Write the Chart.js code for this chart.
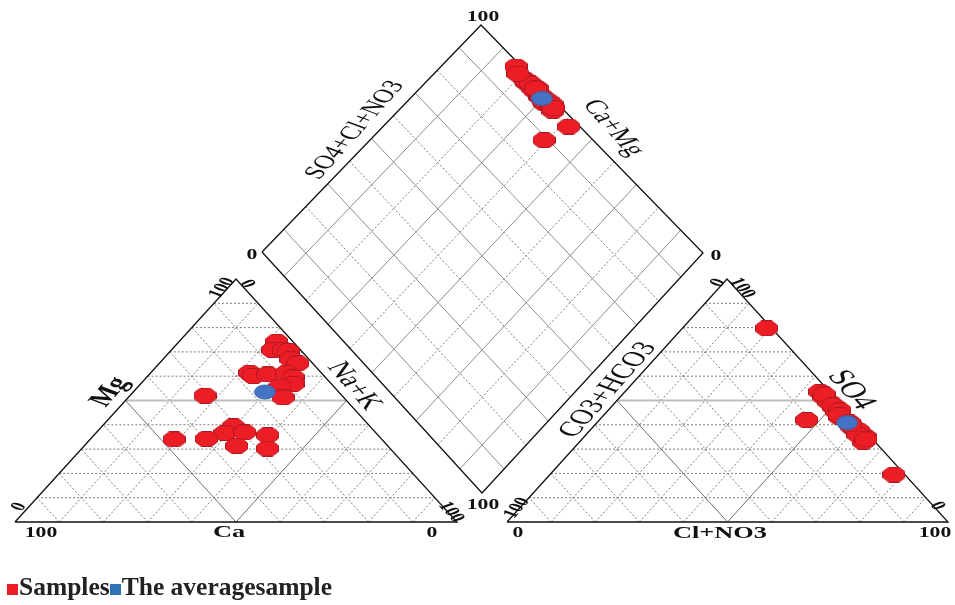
<!DOCTYPE html>
<html>
<head>
<meta charset="utf-8">
<script src="https://cdn.jsdelivr.net/npm/chart.js@4.4.0/dist/chart.umd.min.js"></script>
<style>
html, body { margin: 0; padding: 0; background: #fff; }
#wrap { position: relative; width: 955px; height: 605px; }
#legend { position: absolute; left: 7px; top: 574px; font: bold 25.5px "Liberation Serif", serif; line-height: 25px; color: #222; white-space: nowrap; }
#legend .box { display: inline-block; width: 11px; height: 11px; margin-right: 1px; }
</style>
</head>
<body>
<div id="wrap">
  <canvas id="piper" width="955" height="605"></canvas>
  <div id="legend"><span class="box" style="background:#ED1C24"></span>Samples<span class="box" style="background:#2E75B6"></span>The averagesample</div>
</div>
<script>
// cations, % meq/l (one entry per sample)
const caPct  = [3.7, 6.3, 3.9, 3.0, 4.1, 3.4, 16.2, 16.0, 12.4, 7.9, 7.3, 8.7, 12.2, 13.7, 31.0, 30.9, 34.2, 29.6, 25.0, 47.0, 39.6, 34.2, 27.8];
const mgPct  = [74.2, 70.8, 70.8, 70.4, 67.0, 65.3, 61.4, 60.1, 60.8, 61.4, 59.5, 56.8, 55.7, 51.3, 52.0, 39.4, 36.6, 36.9, 35.7, 34.0, 34.2, 31.3, 30.2];
const nakPct = [22.1, 22.9, 25.3, 26.6, 28.9, 31.3, 22.4, 23.9, 26.8, 30.7, 33.2, 34.5, 32.1, 35.0, 17.0, 29.7, 29.2, 33.5, 39.3, 19.0, 26.2, 34.5, 42.0];
// anions, % meq/l
const hco3Pct = [2.2, 2.4, 2.3, 2.3, 2.5, 2.9, 2.1, 1.7, 1.2, 2.7, 1.8, 2.0, 1.5, 2.6, 1.2, 1.9, 2.2, 1.4, 11.0, 2.4, 1.6, 2.0, 2.5];
const so4Pct  = [53.6, 51.6, 49.5, 47.4, 45.4, 43.2, 38.6, 36.5, 35.1, 33.0, 52.5, 48.0, 46.0, 44.0, 79.7, 41.0, 39.5, 37.5, 42.0, 36.0, 34.0, 40.2, 19.5];
const clPct   = [44.2, 46.0, 48.2, 50.3, 52.1, 53.9, 59.3, 61.8, 63.7, 64.3, 45.7, 50.0, 52.5, 53.4, 19.1, 57.1, 58.3, 61.1, 47.0, 61.6, 64.4, 57.8, 78.0];
// average sample
const avgCation = [16.7, 53.5, 29.8];   // Ca, Mg, Na+K
const avgAnion  = [2.4, 40.9, 56.7];    // CO3+HCO3, SO4, Cl+NO3
const gridSteps = [10, 20, 30, 40, 50, 60, 70, 80, 90];

// #### Geometry (canvas px)
const catTri = { l: [15, 522], r: [457, 522], top: [236, 279] };
const anTri  = { l: [507, 522], r: [948, 522], top: [727, 279] };
const dia    = { l: [262, 252], top: [481, 25], r: [703, 253], b: [482, 493] };
const GAP = { x: null, y: null };

function triPoint(t, wl, wr, wt) {
    const s = wl + wr + wt;
    return {
        x: (t.l[0] * wl + t.r[0] * wr + t.top[0] * wt) / s,
        y: (t.l[1] * wl + t.r[1] * wr + t.top[1] * wt) / s
    };
}

// u = SO4+Cl+NO3 share, v = Na+K share
function diaPoint(u, v) {
    const k = (i) => dia.l[i] + u * (dia.top[i] - dia.l[i]) + v * (dia.b[i] - dia.l[i])
        + u * v * (dia.r[i] - dia.top[i] - dia.b[i] + dia.l[i]);
    return { x: k(0), y: k(1) };
}

function samplePoints(ca, mg, nak, hco3, so4, cl) {
    const cat = triPoint(catTri, ca, nak, mg);
    const an = triPoint(anTri, hco3, cl, so4);
    const d = diaPoint((so4 + cl) / (hco3 + so4 + cl), nak / (ca + mg + nak));
    return [cat, an, d];
}

// #### Grid segments
const dashSegs = [], midSegs = [], halfSegs = [], diaSolid = [];
function push(arr, a, b) { arr.push(a, b, GAP); }

[catTri, anTri].forEach(t => {
    gridSteps.forEach(k => {
        const o = 100 - k;
        const top = [triPoint(t, o, 0, k), triPoint(t, 0, o, k)];
        const left = [triPoint(t, k, o, 0), triPoint(t, k, 0, o)];
        const right = [triPoint(t, o, k, 0), triPoint(t, 0, k, o)];
        if (k === 50) {
            push(halfSegs, top[0], top[1]);
            push(midSegs, left[0], left[1]);
            push(midSegs, right[0], right[1]);
        } else {
            push(dashSegs, top[0], top[1]);
            push(dashSegs, left[0], left[1]);
            push(dashSegs, right[0], right[1]);
        }
    });
});

gridSteps.forEach(k => {
    const f = k / 100;
    const target = (k / 10) % 2 === 1 ? diaSolid : dashSegs;
    push(target, diaPoint(f, 0), diaPoint(f, 1));
    push(target, diaPoint(0, f), diaPoint(1, f));
});

const outline = [];
[catTri, anTri].forEach(t => {
    outline.push({ x: t.l[0], y: t.l[1] }, { x: t.r[0], y: t.r[1] }, { x: t.top[0], y: t.top[1] }, { x: t.l[0], y: t.l[1] }, GAP);
});
outline.push(diaPoint(0, 0), diaPoint(1, 0), diaPoint(1, 1), diaPoint(0, 1), diaPoint(0, 0));

// #### Samples
const samplePts = [];
caPct.forEach((ca, i) => {
    samplePts.push(...samplePoints(ca, mgPct[i], nakPct[i], hco3Pct[i], so4Pct[i], clPct[i]));
});
const avgPts = samplePoints(avgCation[0], avgCation[1], avgCation[2], avgAnion[0], avgAnion[1], avgAnion[2]);

// marker images
function octagon() {
    const c = document.createElement('canvas');
    c.width = 23; c.height = 16;
    const g = c.getContext('2d');
    const w = 22, h = 15, cx = 6, cy = 4.5;
    g.beginPath();
    g.moveTo(0.5 + cx, 0.5); g.lineTo(0.5 + w - cx, 0.5);
    g.lineTo(0.5 + w, 0.5 + cy); g.lineTo(0.5 + w, 0.5 + h - cy);
    g.lineTo(0.5 + w - cx, 0.5 + h); g.lineTo(0.5 + cx, 0.5 + h);
    g.lineTo(0.5, 0.5 + h - cy); g.lineTo(0.5, 0.5 + cy);
    g.closePath();
    g.fillStyle = '#EC1D25'; g.fill();
    g.strokeStyle = '#B01822'; g.lineWidth = 1; g.stroke();
    return c;
}
function ellipse() {
    const c = document.createElement('canvas');
    c.width = 23; c.height = 16;
    const g = c.getContext('2d');
    g.beginPath();
    g.ellipse(11.5, 8, 10.5, 7, 0, 0, Math.PI * 2);
    g.fillStyle = '#4472C4'; g.fill();
    g.strokeStyle = '#3A62A8'; g.lineWidth = 1; g.stroke();
    return c;
}

// #### Axis texts
const labels = [
    ['100', 41, 533, 0, 'bold 14px'], ['Ca', 229, 533, 0, 'bold 17px'], ['0', 432, 533, 0, 'bold 14px'],
    ['0', 19, 507, -60, 'bold 14px'], ['100', 222, 288, -60, 'bold 14px'], ['Mg', 110, 392, -60, 'bold 21px'],
    ['0', 247, 284, 60, 'bold 14px'], ['Na+K', 354, 386, 60, '21px'], ['100', 451, 512, 60, 'bold 14px'],
    ['0', 518, 533, 0, 'bold 14px'], ['Cl+NO3', 720, 534, 0, 'bold 17px'], ['100', 935, 533, 0, 'bold 14px'],
    ['100', 517, 508, -60, 'bold 14px'], ['0', 718, 283, -60, 'bold 14px'], ['CO3+HCO3', 608, 390, -60, '21px'],
    ['100', 742, 288, 60, 'bold 14px'], ['SO4', 851, 390, 60, '23px'], ['0', 937, 506, 60, 'bold 14px'],
    ['100', 483, 17, 0, 'bold 14px'], ['0', 252, 255, 0, 'bold 14px'], ['0', 716, 256, 0, 'bold 14px'],
    ['100', 483, 505, 0, 'bold 14px'], ['SO4+Cl+NO3', 355, 130, -60, '19px'], ['Ca+Mg', 613, 128, 60, '20px']
];

const textPlugin = {
    id: 'piperText',
    afterDatasetsDraw(chart) {
        const ctx = chart.ctx;
        labels.forEach(([text, x, y, rot, font]) => {
            ctx.save();
            ctx.translate(x, y);
            ctx.scale(1.55, 1);
            ctx.rotate(rot * Math.PI / 180);
            ctx.font = font + ' "Liberation Serif", serif';
            ctx.fillStyle = '#111';
            ctx.textAlign = 'center';
            ctx.textBaseline = 'middle';
            ctx.fillText(text, 0, 0);
            ctx.restore();
        });
    }
};

// higher order = drawn further below
const lineSet = (data, color, width, dash, order) => ({
    data, order, showLine: true, borderColor: color, borderWidth: width, borderDash: dash,
    pointRadius: 0, pointHitRadius: 0, clip: false, spanGaps: false
});

new Chart(document.getElementById('piper'), {
    type: 'scatter',
    data: {
        datasets: [
            lineSet(dashSegs, '#7a7a7a', 1, [2, 2], 6),
            lineSet(diaSolid, '#8c8c8c', 1, [], 5),
            lineSet(midSegs, '#6e6e6e', 1, [], 4),
            lineSet(halfSegs, '#bdbdbd', 2, [], 3),
            lineSet(outline, '#111', 1.3, [], 2),
            { data: samplePts, order: 1, pointStyle: octagon(), pointRadius: 9, clip: false },
            { data: avgPts, order: 0, pointStyle: ellipse(), pointRadius: 9, clip: false }
        ]
    },
    options: {
        responsive: false,
        animation: false,
        events: [],
        layout: { padding: 0, autoPadding: false },
        scales: {
            x: { type: 'linear', min: 0, max: 955, display: false },
            y: { type: 'linear', min: 0, max: 605, reverse: true, display: false }
        },
        plugins: { legend: { display: false }, tooltip: { enabled: false } }
    },
    plugins: [textPlugin]
});
</script>
</body>
</html>
